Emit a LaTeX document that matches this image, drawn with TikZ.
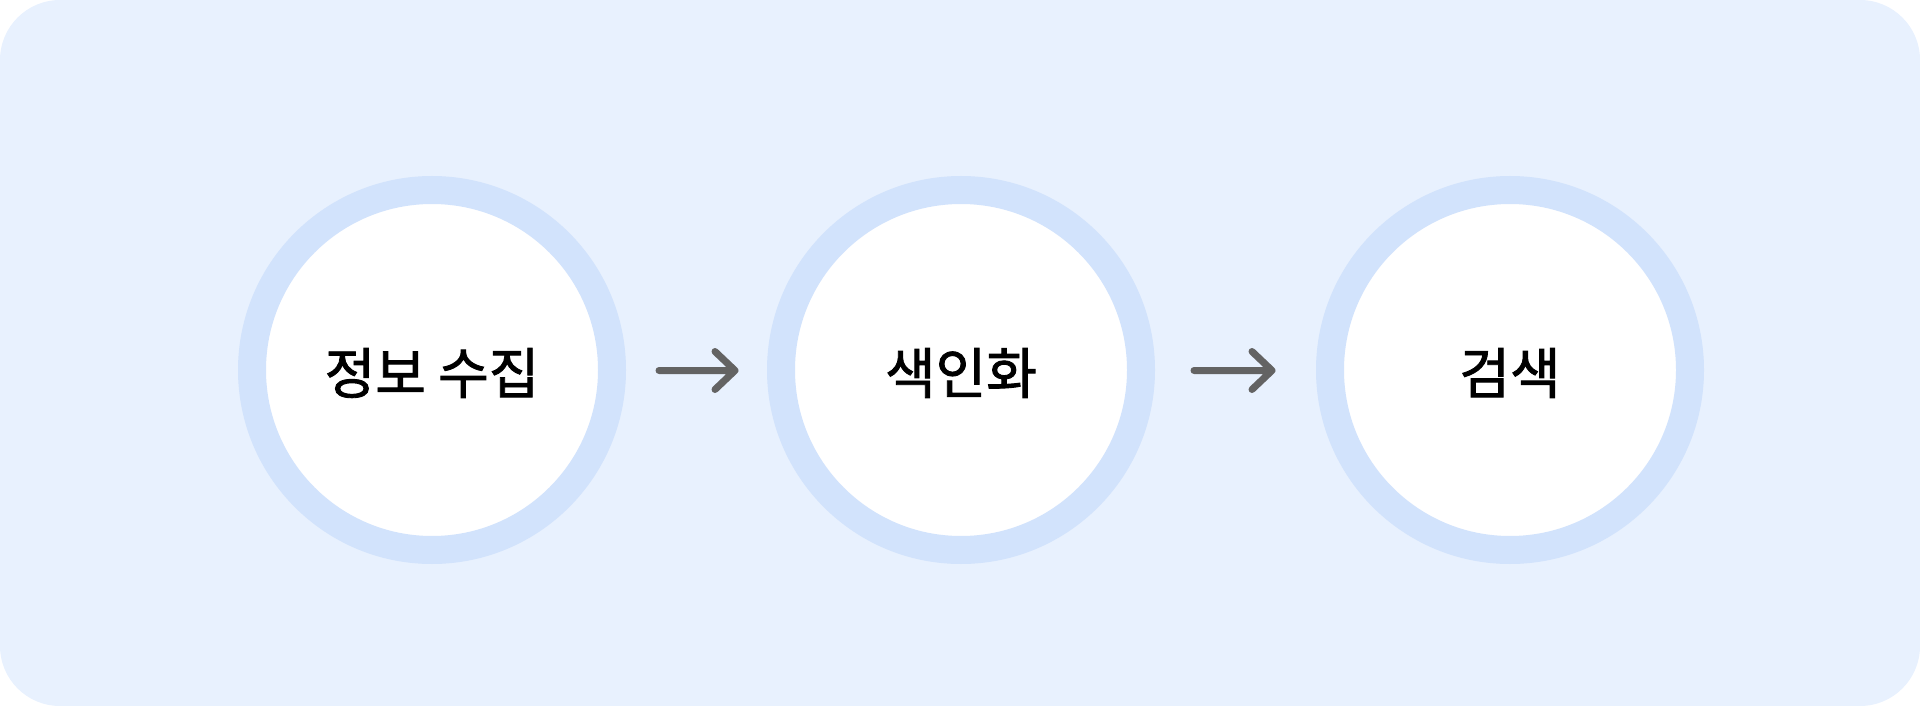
\documentclass[tikz,border=0pt]{standalone}
\usepackage{fontspec}
\newfontfamily\kr[FakeBold=1.6]{Noto Sans CJK KR}
\usetikzlibrary{calc}
\definecolor{bgc}{HTML}{E8F1FE}
\definecolor{ringc}{HTML}{D2E3FC}
\definecolor{arrowc}{HTML}{636363}
\begin{document}
\begin{tikzpicture}[x=1pt,y=-1pt,
  ring/.style={circle, fill=white, draw=ringc, line width=28pt, minimum size=360pt, inner sep=0pt},
  lbl/.style={font=\kr\fontsize{55}{64}\selectfont, text=black, inner sep=0pt},
  flow/.style={draw=arrowc, line width=7pt, line cap=round, line join=round}]
\useasboundingbox (0,0) rectangle (1920,706);
\fill[bgc, rounded corners=60pt] (0,0) rectangle (1920,706);
\node[ring] (c1) at (432,370) {};
\node[ring] (c2) at (961,370) {};
\node[ring] (c3) at (1510,370) {};
\node[lbl] (t1) at ($(c1.center)+(0,3)$) {정보 수집};
\node[lbl] (t2) at ($(c2.center)+(0,3)$) {색인화};
\node[lbl] (t3) at ($(c3.center)+(0,3)$) {검색};
\coordinate (a1s) at ([xshift=33pt,yshift=-0.5pt]c1.east);
\coordinate (a1e) at ([xshift=-32pt,yshift=-0.5pt]c2.west);
\coordinate (a2s) at ([xshift=39pt,yshift=-0.5pt]c2.east);
\coordinate (a2e) at ([xshift=-44pt,yshift=-0.5pt]c3.west);
\draw[flow] (a1s) -- (a1e) -- ($(a1e)+(-20,-19)$) (a1e) -- ($(a1e)+(-20,19)$);
\draw[flow] (a2s) -- (a2e) -- ($(a2e)+(-20,-19)$) (a2e) -- ($(a2e)+(-20,19)$);
\end{tikzpicture}
\end{document}
